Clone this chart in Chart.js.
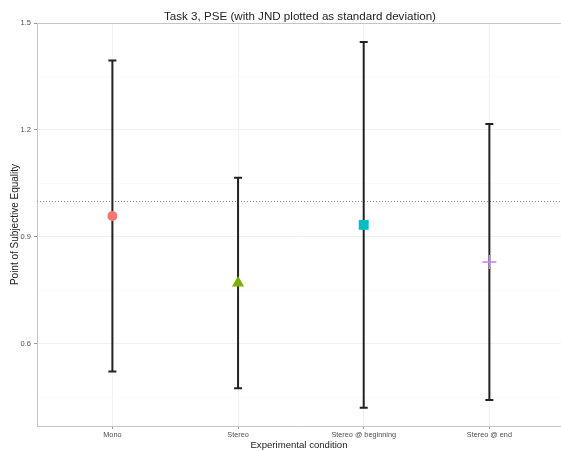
<!DOCTYPE html>
<html>
<head>
<meta charset="utf-8">
<script src="https://cdn.jsdelivr.net/npm/chart.js@4/dist/chart.umd.min.js"></script>
<style>
  html, body { margin: 0; padding: 0; background: #fff; }
</style>
</head>
<body>
<canvas id="grafico" width="561" height="451"></canvas>
<script>
// condições e valores (PSE médio e desvio padrão = JND)
var condicoes = ['Mono', 'Stereo', 'Stereo @ beginning', 'Stereo @ end'];
var pse = [0.959, 0.771, 0.934, 0.830];
var jnd = [0.436, 0.295, 0.513, 0.387];
var ticksY = [0.6, 0.9, 1.2, 1.5];
var ticksYMenores = [0.45, 0.75, 1.05, 1.35];
var referencia = 1.0;

var cores = ['#F8766D', '#7CAE00', '#00BFC4', '#C77CFF'];
var formas = ['circle', 'triangle', 'rect', 'cross'];
var fonte = '"Liberation Sans", Arial, sans-serif';

// barras de erro e linha pontilhada, desenhadas antes dos pontos
const barrasDeErro = {
    id: 'barrasDeErro',
    beforeDatasetsDraw(chart) {
        const ctx = chart.ctx;
        const x = chart.scales.x;
        const y = chart.scales.y;
        const area = chart.chartArea;

        ctx.save();
        ctx.strokeStyle = '#888';
        ctx.lineWidth = 1;
        ctx.setLineDash([1, 2]);
        const yRef = Math.round(y.getPixelForValue(referencia)) + 0.5;
        ctx.beginPath();
        ctx.moveTo(area.left, yRef);
        ctx.lineTo(area.right, yRef);
        ctx.stroke();
        ctx.setLineDash([]);

        ctx.strokeStyle = '#222';
        ctx.lineWidth = 2;
        pse.forEach((m, i) => {
            const px = x.getPixelForValue(i + 1);
            const topo = y.getPixelForValue(m + jnd[i]);
            const base = y.getPixelForValue(m - jnd[i]);
            ctx.beginPath();
            ctx.moveTo(px, topo);
            ctx.lineTo(px, base);
            ctx.moveTo(px - 4, topo);
            ctx.lineTo(px + 4, topo);
            ctx.moveTo(px - 4, base);
            ctx.lineTo(px + 4, base);
            ctx.stroke();
        });
        ctx.restore();
    },
    afterDraw(chart) {
        const ctx = chart.ctx;
        const area = chart.chartArea;
        ctx.save();
        // borda superior do painel (a direita fica fora do canvas)
        ctx.strokeStyle = '#c4c4c4';
        ctx.lineWidth = 1;
        ctx.beginPath();
        ctx.moveTo(area.left, area.top + 0.5);
        ctx.lineTo(area.right, area.top + 0.5);
        ctx.stroke();
        ctx.fillStyle = '#222';
        ctx.font = '11.6px ' + fonte;
        ctx.textAlign = 'center';
        ctx.textBaseline = 'middle';
        ctx.fillText('Task 3, PSE (with JND plotted as standard deviation)', 300, 17);
        ctx.restore();
    }
};

new Chart(document.getElementById('grafico'), {
    type: 'scatter',
    data: {
        datasets: [{
            data: pse.map((v, i) => ({ x: i + 1, y: v })),
            pointStyle: formas,
            backgroundColor: cores,
            borderColor: cores,
            borderWidth: [0, 0, 0, 1.5],
            pointRadius: [5, 7, 7, 7],
            pointHoverRadius: [5, 7, 7, 7]
        }]
    },
    options: {
        responsive: false,
        animation: false,
        layout: { autoPadding: false, padding: { top: 23, right: 0, left: 0, bottom: 0 } },
        plugins: {
            legend: { display: false },
            tooltip: { enabled: false }
        },
        scales: {
            x: {
                type: 'linear',
                min: 0.4,
                max: 4.57,
                afterBuildTicks: axis => {
                    axis.ticks = condicoes.map((c, i) => ({ value: i + 1 }));
                },
                afterFit: axis => { axis.height = 25; },
                ticks: {
                    callback: v => condicoes[v - 1],
                    color: '#4d4d4d',
                    font: { family: fonte, size: 7.3 },
                    padding: 2,
                    maxRotation: 0
                },
                grid: {
                    color: '#f0f0f0',
                    tickColor: '#999',
                    tickLength: 3
                },
                border: { display: true, color: '#c4c4c4' },
                title: {
                    display: true,
                    text: 'Experimental condition',
                    color: '#222',
                    font: { family: fonte, size: 9.6 },
                    padding: 0
                }
            },
            y: {
                min: 0.37,
                max: 1.5,
                afterBuildTicks: axis => {
                    axis.ticks = ticksY.concat(ticksYMenores).map(v => ({ value: v }));
                },
                afterFit: axis => { axis.width = 37; },
                ticks: {
                    callback: v => ticksY.includes(v) ? v.toFixed(1) : '',
                    color: '#4d4d4d',
                    font: { family: fonte, size: 7.5 },
                    padding: 3
                },
                grid: {
                    color: ctx => ticksY.includes(ctx.tick.value) ? '#f0f0f0' : '#fafafa',
                    tickColor: ctx => ticksY.includes(ctx.tick.value) ? '#999' : 'rgba(0,0,0,0)',
                    tickLength: 3
                },
                border: { display: true, color: '#c4c4c4' },
                title: {
                    display: true,
                    text: 'Point of Subjective Equality',
                    color: '#222',
                    font: { family: fonte, size: 10 },
                    padding: { top: 9, bottom: 0 }
                }
            }
        }
    },
    plugins: [barrasDeErro]
});
</script>
</body>
</html>
